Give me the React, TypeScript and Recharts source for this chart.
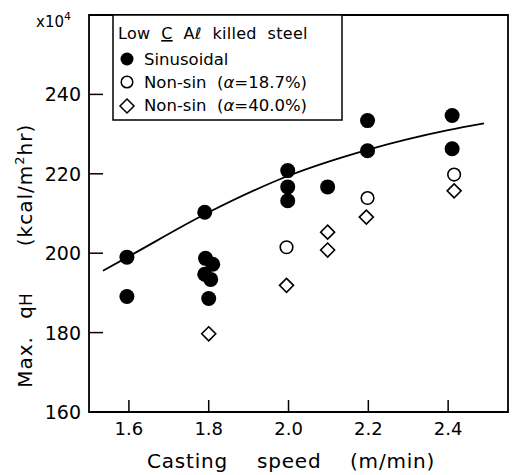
import { ComposedChart, Scatter, Line, XAxis, YAxis, ReferenceArea } from 'recharts';

// casting speed (m/min) and max heat flux qH (x10^4 kcal/m2hr)
const sinusoidalSpeed = [1.595, 1.595, 1.79, 1.792, 1.81, 1.79, 1.805, 1.8, 1.998, 1.998, 1.998, 2.098, 2.198, 2.198, 2.41, 2.41];
const sinusoidalQ = [199.0, 189.1, 210.3, 198.7, 197.2, 194.7, 193.4, 188.6, 220.8, 216.7, 213.2, 216.7, 233.4, 225.8, 234.7, 226.3];

const nonSin187Speed = [1.995, 2.198, 2.415];
const nonSin187Q = [201.5, 213.9, 219.8];

const nonSin400Speed = [1.8, 1.995, 2.098, 2.098, 2.195, 2.415];
const nonSin400Q = [179.7, 191.9, 205.3, 200.8, 209.1, 215.7];

// hand-drawn trend line through the sinusoidal data
const curveSpeed = [1.535, 1.6, 1.8, 2.0, 2.2, 2.4, 2.49];
const curveQ = [195.6, 199.2, 210.3, 219.5, 226.1, 231.0, 232.7];

const xTicks = [1.6, 1.8, 2.0, 2.2, 2.4];
const yTicks = [160, 180, 200, 220, 240];

const zip = (xs: number[], ys: number[]) => xs.map((x, i) => ({ x, y: ys[i] }));

const sinusoidal = zip(sinusoidalSpeed, sinusoidalQ);
const nonSin187 = zip(nonSin187Speed, nonSin187Q);
const nonSin400 = zip(nonSin400Speed, nonSin400Q);
const curve = zip(curveSpeed, curveQ);

const FONT = '"DejaVu Sans", "Liberation Sans", sans-serif';

const XTick = (props: any) => {
  const { x, y, payload } = props;
  return (
    <g>
      <line x1={x} x2={x} y1={y} y2={y - 12} stroke="#000" strokeWidth={1.5} />
      <text x={x} y={y + 23} textAnchor="middle" fontSize={18} fontFamily={FONT} fill="#000">
        {Number(payload.value).toFixed(1)}
      </text>
    </g>
  );
};

const YTick = (props: any) => {
  const { x, y, payload } = props;
  return (
    <g>
      <line x1={x} x2={x + 14} y1={y} y2={y} stroke="#000" strokeWidth={1.5} />
      <text x={x - 8} y={y + 7} textAnchor="end" fontSize={19} fontFamily={FONT} fill="#000">
        {payload.value}
      </text>
    </g>
  );
};

const FilledDot = (props: any) => <circle cx={props.cx} cy={props.cy} r={7.5} fill="#000" />;
const OpenDot = (props: any) => (
  <circle cx={props.cx} cy={props.cy} r={6.3} fill="#fff" stroke="#000" strokeWidth={1.6} />
);
const Diamond = (props: any) => {
  const { cx, cy } = props;
  const r = 7;
  return (
    <polygon
      points={`${cx},${cy - r} ${cx + r},${cy} ${cx},${cy + r} ${cx - r},${cy}`}
      fill="#fff"
      stroke="#000"
      strokeWidth={1.6}
    />
  );
};

const Overlay = () => (
  <svg
    width={520}
    height={475}
    style={{ position: 'absolute', left: 0, top: 0, pointerEvents: 'none' }}
    fontFamily={FONT}
    fill="#000"
  >
    {/* multiplier */}
    <text x={36} y={27} fontSize={15}>
      x10<tspan fontSize={11} dy={-7}>4</tspan>
    </text>

    {/* y title, three word groups */}
    <text transform="translate(32,362) rotate(-90)" textAnchor="middle" fontSize={20} letterSpacing={1}>
      Max.
    </text>
    <text transform="translate(32,306) rotate(-90)" textAnchor="middle" fontSize={20}>
      q<tspan fontSize={17}>H</tspan>
    </text>
    <text transform="translate(32,185) rotate(-90)" textAnchor="middle" fontSize={20} letterSpacing={1}>
      (kcal/m<tspan fontSize={13} dy={-8}>2</tspan>
      <tspan dy={8}>hr)</tspan>
    </text>

    {/* x title */}
    <text x={147} y={468} fontSize={20} letterSpacing={0.8}>Casting</text>
    <text x={257} y={468} fontSize={20} letterSpacing={0.8}>speed</text>
    <text x={350} y={468} fontSize={20} letterSpacing={0.8}>(m/min)</text>

    {/* legend */}
    <rect x={113} y={15} width={229} height={105} fill="#fff" stroke="#000" strokeWidth={1.5} />
    <text x={118} y={39} fontSize={16} letterSpacing={0.3} style={{ whiteSpace: 'pre' }}>
      {'Low  '}
      <tspan textDecoration="underline">C</tspan>
      {'  A'}
      <tspan fontStyle="italic">ℓ</tspan>
      {'  killed  steel'}
    </text>
    <circle cx={127} cy={59} r={6.5} />
    <text x={144} y={65} fontSize={16.5}>Sinusoidal</text>
    <circle cx={127} cy={82} r={5.8} fill="#fff" stroke="#000" strokeWidth={1.5} />
    <text x={144} y={88} fontSize={16.5} style={{ whiteSpace: 'pre' }}>
      {'Non-sin  ('}
      <tspan fontStyle="italic">α</tspan>
      {'=18.7%)'}
    </text>
    <polygon points="127,99 134,106 127,113 120,106" fill="#fff" stroke="#000" strokeWidth={1.5} />
    <text x={144} y={111} fontSize={16.5} style={{ whiteSpace: 'pre' }}>
      {'Non-sin  ('}
      <tspan fontStyle="italic">α</tspan>
      {'=40.0%)'}
    </text>
  </svg>
);

export default function App() {
  return (
    <div style={{ position: 'absolute', left: 0, top: 0, width: 520, height: 475, background: '#fff' }}>
      <ComposedChart width={520} height={475} margin={{ top: 15, right: 12, left: 0, bottom: 0 }}>
        <XAxis
          dataKey="x"
          type="number"
          domain={[1.5, 2.55]}
          ticks={xTicks}
          allowDataOverflow
          height={63}
          tickSize={0}
          tickMargin={0}
          axisLine={false}
          tickLine={false}
          tick={<XTick />}
        />
        <YAxis
          dataKey="y"
          type="number"
          domain={[160, 260]}
          ticks={yTicks}
          allowDataOverflow
          width={89}
          tickSize={0}
          tickMargin={0}
          axisLine={false}
          tickLine={false}
          tick={<YTick />}
        />
        <ReferenceArea x1={1.5} x2={2.55} y1={160} y2={260} fill="none" stroke="#000" strokeWidth={1.8} />
        <Line
          data={curve}
          dataKey="y"
          type="monotone"
          stroke="#000"
          strokeWidth={1.8}
          dot={false}
          isAnimationActive={false}
        />
        <Scatter data={sinusoidal} dataKey="y" shape={<FilledDot />} isAnimationActive={false} />
        <Scatter data={nonSin187} dataKey="y" shape={<OpenDot />} isAnimationActive={false} />
        <Scatter data={nonSin400} dataKey="y" shape={<Diamond />} isAnimationActive={false} />
      </ComposedChart>
      <Overlay />
    </div>
  );
}
